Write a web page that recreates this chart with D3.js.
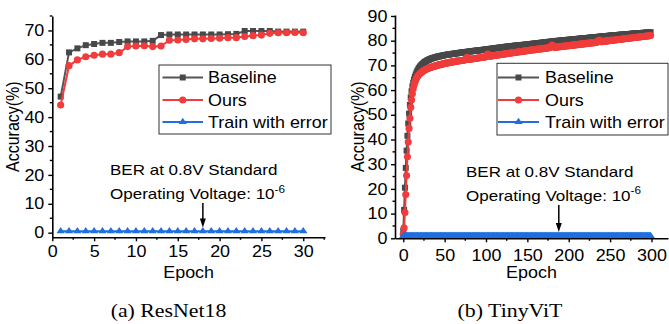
<!DOCTYPE html>
<html><head><meta charset="utf-8">
<script src="https://cdn.jsdelivr.net/npm/d3@7"></script>
<style>html,body{margin:0;padding:0;background:#fff;} svg{display:block}</style>
</head><body><svg id="c" width="669" height="324"></svg>
<script>
// ---------------- DATA ----------------
const seriesNames = ["Baseline", "Ours", "Train with error"];

// (a) ResNet18
const resnetEpochs = [1,2,3,4,5,6,7,8,9,10,11,12,13,14,15,16,17,18,19,20,21,22,23,24,25,26,27,28,29,30];
const resnetBaseline = [47.1,62.4,63.8,64.9,65.3,65.7,65.7,66.0,66.2,66.2,66.2,66.4,68.4,68.6,68.6,68.6,68.6,68.6,68.6,68.6,68.7,68.8,69.8,69.8,69.8,69.8,69.6,69.6,69.6,69.6];
const resnetOurs = [44.2,57.8,59.8,60.9,61.4,61.8,61.8,62.3,64.4,64.6,64.7,64.4,64.6,66.6,66.7,66.9,67.1,67.1,67.2,67.3,67.5,67.5,67.9,68.2,68.4,69.0,69.2,69.2,69.3,69.2];
const resnetTrainErr = [0.5,0.5,0.5,0.5,0.5,0.5,0.5,0.5,0.5,0.5,0.5,0.5,0.5,0.5,0.5,0.5,0.5,0.5,0.5,0.5,0.5,0.5,0.5,0.5,0.5,0.5,0.5,0.5,0.5,0.5];
const resnetXTicks = [0,5,10,15,20,25,30];
const resnetYTicks = [0,10,20,30,40,50,60,70];

// (b) TinyViT  (epochs 0..299)
const vitBaseline = [
3.0,11.5,20.5,28.5,35.5,41.5,46.5,50.5,54.0,57.0,
59.5,61.5,63.0,64.3,65.4,66.3,67.1,67.8,68.4,68.9,
69.4,69.8,70.2,70.5,70.8,71.1,71.4,71.6,71.8,72.0,
72.2,72.3,72.5,72.6,72.8,72.9,73.0,73.1,73.2,73.3,
73.4,73.5,73.6,73.6,73.7,73.8,73.9,73.9,74.0,74.1,
74.2,74.2,74.3,74.3,74.4,74.4,74.5,74.5,74.6,74.6,
74.7,74.7,74.8,74.8,74.9,74.9,75.0,75.0,75.1,75.1,
75.2,75.2,75.3,75.3,75.4,75.4,75.4,75.5,75.5,75.6,
75.6,75.7,75.7,75.8,75.8,75.8,75.9,75.9,76.0,76.0,
76.0,76.1,76.1,76.2,76.2,76.2,76.3,76.3,76.4,76.4,
76.4,76.5,76.5,76.6,76.6,76.7,76.7,76.8,76.8,76.8,
76.9,76.9,77.0,77.0,77.1,77.1,77.2,77.2,77.2,77.3,
77.3,77.4,77.4,77.5,77.5,77.6,77.6,77.6,77.7,77.7,
77.8,77.8,77.8,77.9,77.9,78.0,78.0,78.0,78.1,78.1,
78.1,78.2,78.2,78.2,78.3,78.3,78.3,78.4,78.4,78.4,
78.5,78.5,78.6,78.6,78.6,78.7,78.7,78.8,78.8,78.8,
78.9,78.9,79.0,79.0,79.0,79.1,79.1,79.2,79.2,79.2,
79.3,79.3,79.4,79.4,79.4,79.5,79.5,79.6,79.6,79.6,
79.7,79.7,79.7,79.8,79.8,79.9,79.9,79.9,80.0,80.0,
80.0,80.1,80.1,80.1,80.2,80.2,80.2,80.3,80.3,80.3,
80.4,80.4,80.4,80.5,80.5,80.5,80.6,80.6,80.6,80.7,
80.7,80.7,80.8,80.8,80.8,80.9,80.9,80.9,81.0,81.0,
81.0,81.1,81.1,81.1,81.2,81.2,81.2,81.3,81.3,81.3,
81.4,81.4,81.4,81.5,81.5,81.5,81.6,81.6,81.6,81.7,
81.7,81.7,81.8,81.8,81.8,81.9,81.9,81.9,82.0,82.0,
82.0,82.1,82.1,82.1,82.2,82.2,82.2,82.2,82.3,82.3,
82.3,82.4,82.4,82.4,82.5,82.5,82.5,82.5,82.6,82.6,
82.6,82.7,82.7,82.7,82.7,82.8,82.8,82.8,82.9,82.9,
82.9,82.9,83.0,83.0,83.0,83.0,83.1,83.1,83.1,83.1,
83.2,83.2,83.2,83.2,83.3,83.3,83.3,83.3,83.4,83.4];
const vitOurs = [
1.6,4.2,10.4,17.7,25.4,33.0,39.0,44.5,48.6,53.0,
56.0,58.5,60.5,62.0,63.2,64.1,64.8,65.4,65.9,66.3,
66.6,66.9,67.2,67.5,67.7,67.9,68.1,68.3,68.5,68.6,
68.8,68.9,69.0,69.1,69.2,69.4,69.5,69.6,69.7,69.8,
69.9,70.0,70.1,70.2,70.3,70.3,70.4,70.5,70.6,70.7,
70.8,70.8,70.9,71.0,71.0,71.1,71.2,71.2,71.3,71.4,
71.4,71.5,71.5,71.6,71.7,71.7,71.8,71.8,71.9,71.9,
72.0,72.0,72.1,72.1,72.2,72.3,72.8,73.3,72.6,72.4,
72.5,72.5,72.6,72.6,72.7,72.7,72.8,72.8,72.9,72.9,
73.0,73.0,73.1,73.1,73.2,73.2,73.3,73.3,73.4,73.4,
73.5,74.0,74.6,74.0,73.7,73.7,73.8,73.8,73.9,73.9,
74.0,74.0,74.1,74.1,74.2,74.2,74.3,74.3,74.4,74.4,
74.5,74.5,74.6,74.6,74.7,74.7,74.8,74.8,74.9,74.9,
75.0,75.0,75.1,75.1,75.2,75.2,75.3,75.3,75.4,75.4,
75.5,75.5,75.6,75.6,75.7,75.7,75.8,75.8,75.9,75.9,
76.0,76.0,76.1,76.1,76.2,76.2,76.3,76.3,76.3,76.4,
76.4,76.5,76.5,76.6,76.6,76.6,76.7,76.7,76.8,76.8,
76.9,76.9,76.9,77.0,77.0,77.1,77.1,77.2,77.4,77.8,
78.2,77.8,77.4,77.3,77.3,77.4,77.4,77.5,77.5,77.5,
77.6,77.6,77.7,77.7,77.7,77.8,77.8,77.9,77.9,78.0,
78.0,78.0,78.1,78.1,78.2,78.2,78.2,78.3,78.3,78.4,
78.4,78.4,78.5,78.5,78.6,78.6,78.6,78.7,78.7,78.8,
78.8,78.8,78.9,78.9,79.0,79.0,79.0,79.1,79.1,79.2,
79.2,79.2,79.3,79.3,79.4,79.6,80.0,80.3,79.9,79.6,
79.6,79.7,79.7,79.8,79.8,79.8,79.9,79.9,80.0,80.0,
80.1,80.1,80.1,80.2,80.2,80.3,80.3,80.4,80.4,80.4,
80.5,80.5,80.6,80.6,80.6,80.7,80.7,80.8,80.8,80.9,
80.9,80.9,81.0,81.0,81.1,81.1,81.1,81.2,81.2,81.3,
81.3,81.3,81.4,81.4,81.5,81.5,81.5,81.6,81.6,81.7,
81.7,81.7,81.8,81.8,81.9,81.9,81.9,82.0,82.0,82.1];
const vitTrainErr = [
1,1,1,1,1,1,1,1,1,1,1,1,1,1,1,1,1,1,1,1,1,1,1,1,1,1,1,1,1,1,
1,1,1,1,1,1,1,1,1,1,1,1,1,1,1,1,1,1,1,1,1,1,1,1,1,1,1,1,1,1,
1,1,1,1,1,1,1,1,1,1,1,1,1,1,1,1,1,1,1,1,1,1,1,1,1,1,1,1,1,1,
1,1,1,1,1,1,1,1,1,1,1,1,1,1,1,1,1,1,1,1,1,1,1,1,1,1,1,1,1,1,
1,1,1,1,1,1,1,1,1,1,1,1,1,1,1,1,1,1,1,1,1,1,1,1,1,1,1,1,1,1,
1,1,1,1,1,1,1,1,1,1,1,1,1,1,1,1,1,1,1,1,1,1,1,1,1,1,1,1,1,1,
1,1,1,1,1,1,1,1,1,1,1,1,1,1,1,1,1,1,1,1,1,1,1,1,1,1,1,1,1,1,
1,1,1,1,1,1,1,1,1,1,1,1,1,1,1,1,1,1,1,1,1,1,1,1,1,1,1,1,1,1,
1,1,1,1,1,1,1,1,1,1,1,1,1,1,1,1,1,1,1,1,1,1,1,1,1,1,1,1,1,1,
1,1,1,1,1,1,1,1,1,1,1,1,1,1,1,1,1,1,1,1,1,1,1,1,1,1,1,1,1,1];
const vitEpochs = vitBaseline.map((_, i) => i);
const vitXTicks = [0,50,100,150,200,250,300];
const vitYTicks = [0,10,20,30,40,50,60,70,80,90];

const annotationLines = ["BER at 0.8V Standard", "Operating Voltage: 10"];
const annotationSup = "-6";
const captions = ["(a) ResNet18", "(b) TinyViT"];
const xTitle = "Epoch", yTitle = "Accuracy(%)";

// ---------------- DRAWING ----------------
const svg = d3.select("#c");
const S = 1.12, FS = 16, AFS = 15.2;
const FONT = "'Liberation Sans', Arial, Helvetica, sans-serif";
const SERIF = "'Liberation Serif', 'Times New Roman', serif";
const colors = {base: "#484848", baseLine: "#555555", ours: "#f03c3c", train: "#1f6fe0"};

function txt(g, x, y, s, anchor = "start", size = FS, family = FONT, rot = 0) {
  return g.append("text")
    .attr("transform", `translate(${x},${y}) scale(${S},1)` + (rot ? ` rotate(${rot})` : ""))
    .attr("text-anchor", anchor).attr("font-family", family).attr("font-size", size)
    .attr("fill", "#000").text(s);
}

// flat triangle marker (Origin-style)
const flatTriangle = {
  draw(ctx) {
    const w = 8.4, h = 6.2;
    ctx.moveTo(0, -h * 2 / 3); ctx.lineTo(w / 2, h / 3); ctx.lineTo(-w / 2, h / 3); ctx.closePath();
  }
};
const sym = {
  square: d3.symbol().type(d3.symbolSquare).size(36),
  circle: d3.symbol().type(d3.symbolCircle).size(40),
  triangle: d3.symbol().type(flatTriangle)
};

function panel(cfg) {
  const x = d3.scaleLinear().domain(cfg.xDomain).range(cfg.xRange);
  const y = d3.scaleLinear().domain(cfg.yDomain).range(cfg.yRange);
  const g = svg.append("g");

  const series = [
    {vals: cfg.base, stroke: colors.baseLine, fill: colors.base, sym: sym.square},
    {vals: cfg.ours, stroke: colors.ours, fill: colors.ours, sym: sym.circle},
    {vals: cfg.train, stroke: colors.train, fill: colors.train, sym: sym.triangle}
  ];
  series.forEach(s => {
    const pts = cfg.epochs.map((e, i) => [e, s.vals[i]]);
    g.append("path").datum(pts)
      .attr("d", d3.line().x(d => x(d[0])).y(d => y(d[1])))
      .attr("fill", "none").attr("stroke", s.stroke).attr("stroke-width", 2);
    g.append("g").selectAll("path").data(pts).join("path")
      .attr("transform", d => `translate(${x(d[0])},${y(d[1])})`)
      .attr("d", s.sym()).attr("fill", s.fill);
  });

  // axes
  const x0 = cfg.xRange[0], y0 = cfg.yRange[0];
  const gx = g.append("g").attr("transform", `translate(0,${y0})`)
    .call(d3.axisBottom(x).tickValues(cfg.xTicks).tickSize(4).tickSizeOuter(0).tickPadding(cfg.xPad).tickFormat(d => d));
  const gy = g.append("g").attr("transform", `translate(${x0},0)`)
    .call(d3.axisLeft(y).tickValues(cfg.yTicks).tickSize(4).tickSizeOuter(0).tickPadding(cfg.yPad).tickFormat(d => d));
  [gx, gy].forEach(a => {
    a.select(".domain").attr("stroke", "#000").attr("stroke-width", 1.6);
    a.selectAll(".tick line").attr("stroke", "#000").attr("stroke-width", 1.4);
    a.selectAll("text").attr("font-family", FONT).attr("font-size", FS).attr("fill", "#000");
  });
  gx.selectAll(".tick text").attr("transform", `scale(${S},1)`);
  gy.selectAll(".tick text").each(function () {
    const t = d3.select(this); t.attr("x", +t.attr("x") / S).attr("transform", `scale(${S},1)`);
  });
  // minor ticks
  g.append("g").selectAll("line").data(cfg.xMinor).join("line")
    .attr("x1", d => x(d)).attr("x2", d => x(d)).attr("y1", y0).attr("y2", y0 + 2.5)
    .attr("stroke", "#000").attr("stroke-width", 1.4);
  g.append("g").selectAll("line").data(cfg.yMinor).join("line")
    .attr("y1", d => y(d)).attr("y2", d => y(d)).attr("x1", x0).attr("x2", x0 - 2.5)
    .attr("stroke", "#000").attr("stroke-width", 1.4);

  // titles
  txt(g, (cfg.xRange[0] + cfg.xRange[1]) / 2, 278.3, xTitle, "middle");
  txt(g, cfg.yTitleX, (cfg.yRange[0] + cfg.yRange[1]) / 2, yTitle, "middle", FS, FONT, -90);
  txt(g, cfg.capX, 316.7, cfg.caption, "middle", 19.5, SERIF);

  // legend
  const L = cfg.legend;
  g.append("rect").attr("x", L.x).attr("y", L.y).attr("width", L.w).attr("height", L.h)
    .attr("fill", "#fff").attr("stroke", "#333").attr("stroke-width", 1);
  series.forEach((s, i) => {
    const cy = L.rows[i];
    g.append("line").attr("x1", L.lx1).attr("x2", L.lx2).attr("y1", cy).attr("y2", cy)
      .attr("stroke", s.stroke).attr("stroke-width", 2);
    g.append("path").attr("transform", `translate(${(L.lx1 + L.lx2) / 2},${cy})`)
      .attr("d", s.sym()).attr("fill", s.fill);
    txt(g, L.tx, cy + 5.8, seriesNames[i]);
  });

  // annotation
  const A = cfg.ann;
  txt(g, A.x, A.y1, annotationLines[0], "start", AFS);
  const t2 = txt(g, A.x, A.y2, annotationLines[1], "start", AFS);
  t2.append("tspan").attr("dy", -6.5).attr("font-size", 10.5).text(annotationSup);
  const ax = x(cfg.arrowEpoch);
  g.append("line").attr("x1", ax).attr("x2", ax).attr("y1", A.a1).attr("y2", A.a2 - 6)
    .attr("stroke", "#000").attr("stroke-width", 1.5);
  g.append("path").attr("d", `M${ax - 3},${A.a2 - 9}L${ax + 3},${A.a2 - 9}L${ax},${A.a2}Z`).attr("fill", "#000");
}

panel({
  epochs: resnetEpochs, base: resnetBaseline, ours: resnetOurs, train: resnetTrainErr,
  xDomain: [0, 32.6], xRange: [52.3, 325], yDomain: [-1.6, 75], yRange: [237.3, 16],
  xTicks: resnetXTicks, yTicks: resnetYTicks,
  xMinor: [2.5,7.5,12.5,17.5,22.5,27.5,32.5], yMinor: [5,15,25,35,45,55,65,75],
  xPad: 4, yPad: 4, yTitleX: 19, capX: 168.5, caption: captions[0],
  legend: {x: 159, y: 65, w: 172, h: 69, rows: [77.5, 100, 122], lx1: 162.5, lx2: 203, tx: 208},
  ann: {x: 110, y1: 175, y2: 199.3, a1: 203, a2: 227.5}, arrowEpoch: 18
});
panel({
  epochs: vitEpochs, base: vitBaseline, ours: vitOurs, train: vitTrainErr,
  xDomain: [-10, 320], xRange: [395, 668], yDomain: [0, 90.4], yRange: [238.3, 15],
  xTicks: vitXTicks, yTicks: vitYTicks,
  xMinor: [25,75,125,175,225,275], yMinor: [5,15,25,35,45,55,65,75,85],
  xPad: 7.5, yPad: 3.5, yTitleX: 364, capX: 510, caption: captions[1],
  legend: {x: 497, y: 63.3, w: 171, h: 71.7, rows: [77.5, 100, 122], lx1: 498, lx2: 539, tx: 545},
  ann: {x: 466, y1: 176.7, y2: 200.7, a1: 205, a2: 232}, arrowEpoch: 188
});
</script></body></html>
